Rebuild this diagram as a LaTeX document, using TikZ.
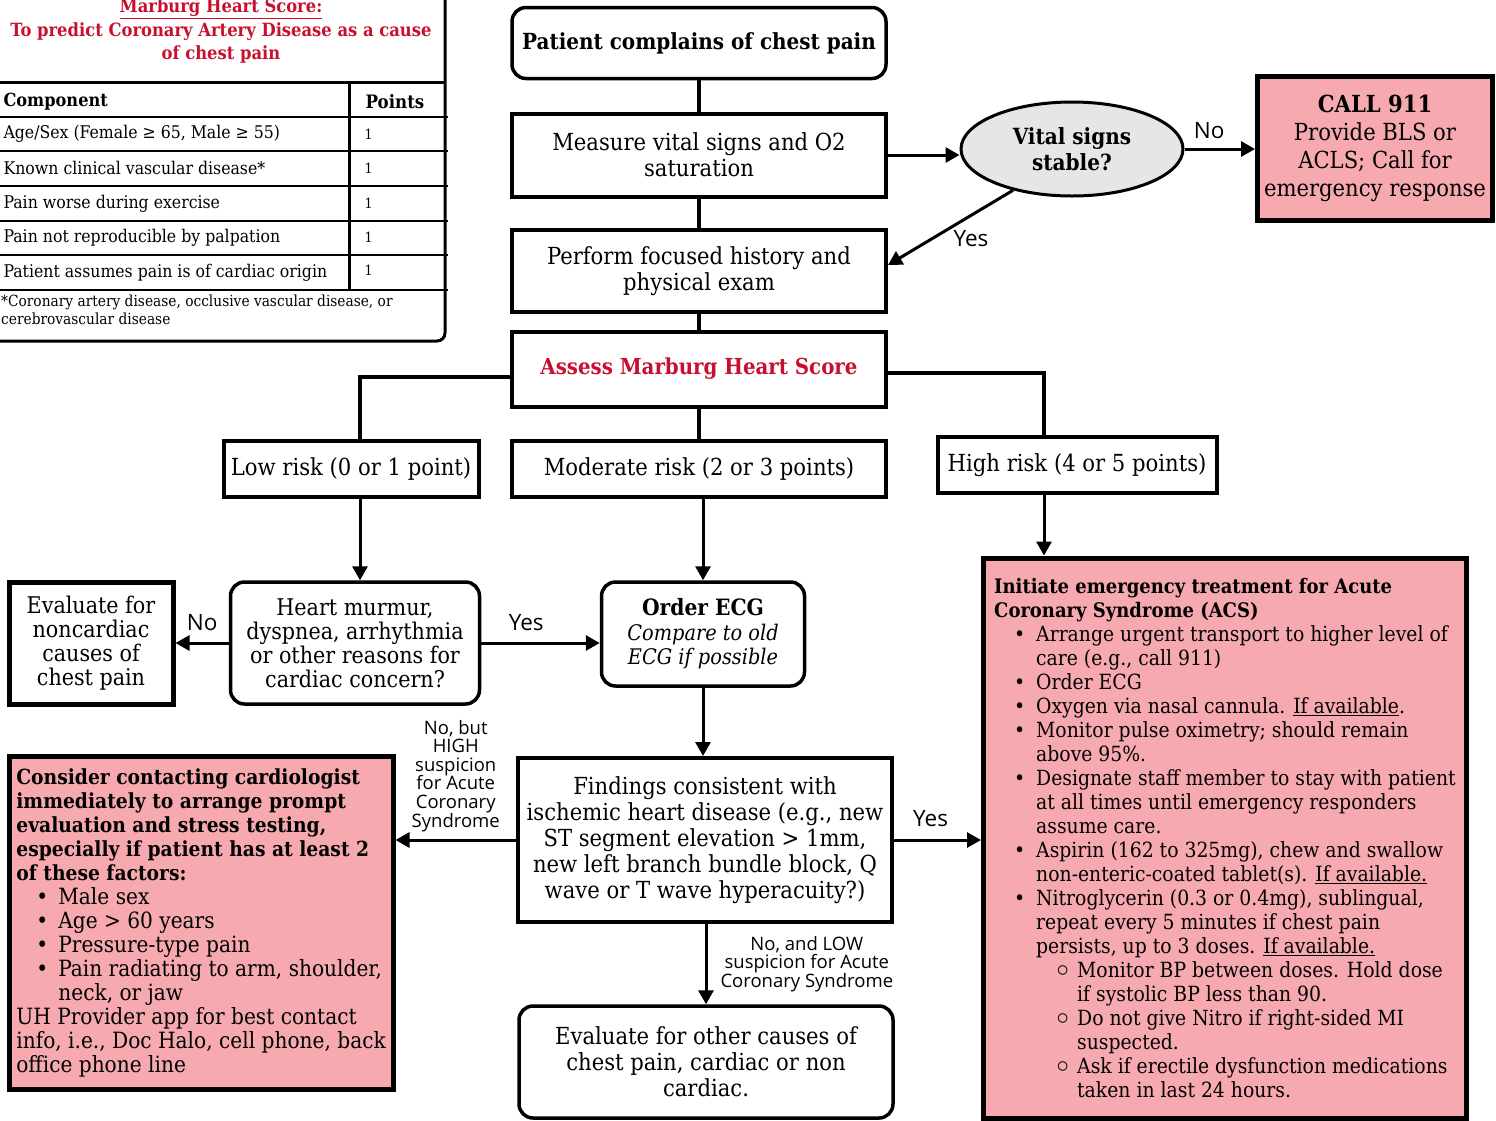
\documentclass[tikz,border=0pt]{standalone}
\usepackage{fontspec}
\setmainfont{DejaVuSerifCondensed}[Extension=.ttf, UprightFont=*, BoldFont=*-Bold, ItalicFont=*-Italic, BoldItalicFont=*-BoldItalic]
\setsansfont{Open Sans}
\newfontfamily\symfont{DejaVu Sans}
\usepackage{tikz}
\usetikzlibrary{arrows.meta,calc,positioning,shapes.geometric}

\definecolor{mhsred}{HTML}{C8102E}
\definecolor{acspink}{HTML}{F6A9AF}
\definecolor{ovalgray}{HTML}{E6E6E6}

\newcommand\flowfont{\fontsize{23.5}{26}\selectfont}
\newcommand\bigfont{\fontsize{23}{24}\selectfont}
\newcommand\tabfont{\fontsize{17.5}{19}\selectfont}
\newcommand\notefont{\fontsize{15.3}{18}\selectfont}
\newcommand\headfont{\fontsize{18.2}{23.5}\selectfont}

% bullet lines for the pink boxes
\newcommand\itm[1]{\hspace*{20pt}\makebox[22pt][l]{\textbullet}#1}
\newcommand\itc[1]{\hspace*{42pt}#1}
\newcommand\sitm[1]{\hspace*{60pt}\makebox[23pt][l]{\raisebox{-3.5pt}[0pt][0pt]{\symfont\fontsize{27}{24}\selectfont\bfseries\char"25E6}}#1}
\newcommand\sitc[1]{\hspace*{83pt}#1}

\begin{document}
\begin{tikzpicture}[x=1pt, y=-1pt,
    box/.style={rectangle, draw, line width=4pt, fill=white, align=center, inner sep=3pt, font=\flowfont},
    rbox/.style={box, rounded corners=14pt, line width=3.5pt},
    pbox/.style={box, fill=acspink, align=left, line width=5pt},
    link/.style={line width=3.5pt},
    arr/.style={line width=3pt, -{Triangle[length=14pt,width=15pt]}},
    lbl/.style={font=\sffamily\fontsize{22.5}{24}\selectfont, inner sep=3pt},
    slbl/.style={font=\sffamily\fontsize{18.5}{18.6}\selectfont, align=center, inner sep=1pt}]
  \useasboundingbox (0,0) rectangle (1496,1120);

  % Marburg score table
  \draw[line width=3pt, rounded corners=8pt] (-20,-20) -- (445,-20) -- (445,341) -- (-20,341);
  \node[font=\headfont\bfseries, text=mhsred, align=center] (mhstitle) at (221,31)
    {\underline{Marburg Heart Score:}\\To predict Coronary Artery Disease as a cause\\of chest pain};
  \draw[line width=3pt] (0,82) -- (445,82);
  \foreach \y in {117,151,186,221,255,290}
    \draw[line width=2.5pt] (0,\y) -- (448,\y);
  \draw[line width=3pt] (349,82) -- (349,290);
  \node[anchor=west, font=\fontsize{18}{19}\selectfont\bfseries] (comphead) at (0,102) {Component};
  \node[font=\fontsize{18.5}{19}\selectfont\bfseries] (pointshead) at (395,102) {Points};
  \node[anchor=west, font=\tabfont] (r1) at (0,134) {Age/Sex (Female ≥ 65, Male ≥ 55)};
  \node[anchor=west, font=\tabfont] (r2) at (0,168) {Known clinical vascular disease*};
  \node[anchor=west, font=\tabfont] (r3) at (0,204) {Pain worse during exercise};
  \node[anchor=west, font=\tabfont] (r4) at (0,238) {Pain not reproducible by palpation};
  \node[anchor=west, font=\tabfont] (r5) at (0,273) {Patient assumes pain is of cardiac origin};
  \foreach \y/\n in {134/r1,168/r2,203/r3,237/r4,270/r5}
    \node[anchor=west, font=\fontsize{14}{16}\selectfont] (\n pt) at (361,\y) {1};
  \node[anchor=north west, font=\notefont, align=left, inner sep=0pt] (footnote) at (1,295)
    {*Coronary artery disease, occlusive vascular disease, or\\cerebrovascular disease};

  % main column
  \node[rbox, font=\fontsize{22.2}{26}\selectfont\bfseries, minimum width=374pt, minimum height=71pt] (complain) at (699,43) {Patient complains of chest pain};
  \node[box, minimum width=374pt, minimum height=83pt] (vitals) at (699,155) {Measure vital signs and O2\\saturation};
  \node[box, minimum width=374pt, minimum height=82pt] (history) at (699,271) {Perform focused history and\\physical exam};
  \node[box, minimum width=374pt, minimum height=75pt, font=\fontsize{22}{26}\selectfont\bfseries, text=mhsred] (assess) at (699,369) {Assess Marburg Heart Score};
  \node[box, minimum width=255pt, minimum height=56pt] (lowrisk) at (351,469) {Low risk (0 or 1 point)};
  \node[box, minimum width=374pt, minimum height=56pt] (modrisk) at (699,469) {Moderate risk (2 or 3 points)};
  \node[box, minimum width=279pt, minimum height=56pt] (highrisk) at (1077,465) {High risk (4 or 5 points)};
  \node[rbox, minimum width=249pt, minimum height=122pt, font=\bigfont] (concern) at (355,643)
    {Heart murmur,\\dyspnea, arrhythmia\\or other reasons for\\cardiac concern?};
  \node[box, minimum width=164pt, minimum height=122pt, line width=5pt, font=\bigfont] (noncardiac) at (91,643)
    {Evaluate for\\noncardiac\\causes of\\chest pain};
  \node[rbox, minimum width=203pt, minimum height=104pt, font=\fontsize{21.5}{24.5}\selectfont] (ecg) at (703,634)
    {{\fontsize{22.5}{24.5}\selectfont\textbf{Order ECG}}\\\textit{Compare to old}\\\textit{ECG if possible}};
  \node[box, minimum width=374pt, minimum height=164pt] (findings) at (705,840)
    {Findings consistent with\\ischemic heart disease (e.g., new\\ST segment elevation > 1mm,\\new left branch bundle block, Q\\wave or T wave hyperacuity?)};
  \node[rbox, minimum width=374pt, minimum height=112pt] (othercause) at (706,1062)
    {Evaluate for other causes of\\chest pain, cardiac or non\\cardiac.};

  % vital signs branch
  \node[ellipse, draw, line width=3pt, fill=ovalgray, minimum width=222pt, minimum height=94pt, align=center, font=\fontsize{22.3}{26}\selectfont\bfseries] (stable) at (1072,149) {Vital signs\\stable?};
  \node[box, fill=acspink, minimum width=235pt, minimum height=144pt, line width=5pt, font=\fontsize{23.5}{28}\selectfont] (call) at (1375,148)
    {\textbf{CALL 911}\\Provide BLS or\\ACLS; Call for\\emergency response};

  % pink action boxes
  \node[pbox, minimum width=384pt, minimum height=333pt, inner sep=6pt, font=\fontsize{22.4}{24}\selectfont] (cardiology) at (201,923)
    {{\fontsize{20.8}{24}\selectfont\bfseries Consider contacting cardiologist}\\
     {\fontsize{20.8}{24}\selectfont\bfseries immediately to arrange prompt}\\
     {\fontsize{20.8}{24}\selectfont\bfseries evaluation and stress testing,}\\
     {\fontsize{20.8}{24}\selectfont\bfseries especially if patient has at least 2}\\
     {\fontsize{20.8}{24}\selectfont\bfseries of these factors:}\\
     \itm{Male sex}\\
     \itm{Age > 60 years}\\
     \itm{Pressure-type pain}\\
     \itm{Pain radiating to arm, shoulder,}\\
     \itc{neck, or jaw}\\
     UH Provider app for best contact\\
     info, i.e., Doc Halo, cell phone, back\\
     office phone line};
  \node[pbox, minimum width=483pt, minimum height=560pt, inner sep=9pt, font=\fontsize{20.9}{24}\selectfont] (initiate) at (1225,838)
    {{\fontsize{20}{24}\selectfont\bfseries Initiate emergency treatment for Acute}\\
     {\fontsize{20}{24}\selectfont\bfseries Coronary Syndrome (ACS)}\\
     \itm{Arrange urgent transport to higher level of}\\
     \itc{care (e.g., call 911)}\\
     \itm{Order ECG}\\
     \itm{Oxygen via nasal cannula. \underline{If available}.}\\
     \itm{Monitor pulse oximetry; should remain}\\
     \itc{above 95\%.}\\
     \itm{Designate staff member to stay with patient}\\
     \itc{at all times until emergency responders}\\
     \itc{assume care.}\\
     \itm{Aspirin (162 to 325mg), chew and swallow}\\
     \itc{non-enteric-coated tablet(s). \underline{If available.}}\\
     \itm{Nitroglycerin (0.3 or 0.4mg), sublingual,}\\
     \itc{repeat every 5 minutes if chest pain}\\
     \itc{persists, up to 3 doses. \underline{If available.}}\\
     \sitm{Monitor BP between doses. Hold dose}\\
     \sitc{if systolic BP less than 90.}\\
     \sitm{Do not give Nitro if right-sided MI}\\
     \sitc{suspected.}\\
     \sitm{Ask if erectile dysfunction medications}\\
     \sitc{taken in last 24 hours.}};

  % connectors
  \coordinate (lowtop) at ([xshift=9pt]lowrisk.north);
  \coordinate (lowbot) at ([xshift=9pt]lowrisk.south);
  \coordinate (hightop) at ([xshift=-33pt]highrisk.north);
  \coordinate (highbot) at ([xshift=-33pt]highrisk.south);
  \coordinate (yesend) at ([yshift=6pt]history.east);
  \draw[link] (complain) -- (vitals);
  \draw[link] (vitals) -- (history);
  \draw[link] (history) -- (assess);
  \draw[link] ([yshift=-8pt]assess.west) -| (lowtop);
  \draw[link] ([yshift=-4pt]assess.east) -| (hightop);
  \draw[link] (assess) -- (modrisk);
  \draw[arr] (lowbot) -- (lowbot |- concern.north);
  \draw[arr] (modrisk.south -| ecg.north) -- (ecg.north);
  \draw[arr] (highbot) -- (highbot |- initiate.north);
  \draw[arr] (vitals.east) -- (vitals.east -| stable.west);
  \draw[arr] (stable.east) -- node[lbl, above=6pt, pos=0.35] (nolbl) {No} (stable.east -| call.west);
  \draw[arr] (stable.215) -- node[lbl, below right=-2pt] (yeslbl) {Yes} (yesend);
  \draw[arr] (concern.west) -- node[lbl, above=8pt] (nonclbl) {No} (noncardiac.east);
  \draw[arr] (concern.east) -- node[lbl, above=8pt, pos=0.38] (ecglbl) {Yes} (concern.east -| ecg.west);
  \draw[arr] (ecg.south) -- (ecg.south |- findings.north);
  \draw[arr] (findings.west) -- node[slbl, above=6pt] (highlbl)
    {No, but\\HIGH\\suspicion\\for Acute\\Coronary\\Syndrome} (findings.west -| cardiology.east);
  \draw[arr] (findings.east) -- node[lbl, above=9pt, pos=0.42] (acslbl) {Yes} (findings.east -| initiate.west);
  \draw[arr] (findings.south -| othercause.north) -- node[slbl, right=12pt] (lowlbl)
    {No, and LOW\\suspicion for Acute\\Coronary Syndrome} (othercause.north);
\end{tikzpicture}
\end{document}
